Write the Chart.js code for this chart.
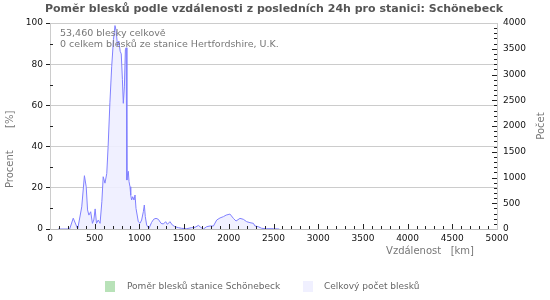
<!DOCTYPE html>
<html>
<head>
<meta charset="utf-8">
<script src="https://cdn.jsdelivr.net/npm/chart.js@4.4.0/dist/chart.umd.min.js"></script>
<style>
  body { margin: 0; background: white; }
</style>
</head>
<body>
<canvas id="myChart" width="550" height="300"></canvas>
<script>
  // distances in km
  var distKm = [90, 220, 260, 310, 355, 385, 405, 420, 435, 455, 475, 490, 505, 520, 540, 560, 580, 595, 615, 635,
    650, 670, 690, 710, 727, 740, 755, 770, 785, 797, 810, 820, 832, 843, 852, 860, 866, 876, 884, 895,
    903, 913, 925, 940, 951, 962, 988, 1007, 1025, 1044, 1055, 1066, 1081, 1107, 1137, 1160, 1186, 1212, 1242, 1268,
    1294, 1313, 1342, 1368, 1398, 1436, 1473, 1529, 1585, 1622, 1660, 1686, 1716, 1753, 1790, 1828, 1865, 1902, 1940, 1970,
    2013, 2051, 2081, 2125, 2163, 2200, 2237, 2275, 2293, 2330, 2368, 2424, 2498, 2565];
  // total strikes per distance
  var totalCount = [0, 0, 210, 0, 430, 1035, 820, 370, 270, 335, 110, 175, 390, 110, 175, 110, 530, 1015, 890, 1080,
    1600, 2450, 3150, 3680, 3950, 3850, 3560, 3650, 3450, 3400, 2900, 2440, 2760, 3480, 3520, 950, 1050, 1120, 920, 820,
    660, 563, 627, 563, 660, 400, 140, 110, 175, 336, 466, 240, 78, 13, 130, 190, 207, 188, 110, 97,
    142, 91, 142, 78, 45, 26, 13, 6, 26, 32, 70, 32, 0, 45, 58, 58, 175, 215, 240, 270,
    290, 207, 155, 207, 188, 142, 123, 110, 58, 45, 13, 6, 6, 0];
  // station ratio in % (station had 0 strikes)
  var stationRatio = distKm.map(function () { return 0; });

  var titleText = 'Poměr blesků podle vzdálenosti z posledních 24h pro stanici: Schönebeck';
  var infoLines = ['53,460 blesky celkově', '0 celkem blesků ze stanice Hertfordshire, U.K.'];
  var seriesNames = ['Poměr blesků stanice Schönebeck', 'Celkový počet blesků'];
  var seriesColors = ['rgb(184,226,184)', 'rgb(240,240,255)'];

  function pts(xs, ys) {
    return xs.map(function (x, i) { return { x: x, y: ys[i] }; });
  }
  function plain(v) { return String(v); }

  var FONT = 'DejaVu Sans';

  var extras = {
    id: 'extras',
    afterDraw: function (chart) {
      var c = chart.ctx;
      var a = chart.chartArea;
      var sx = chart.scales.x, sy = chart.scales.y, sy1 = chart.scales.y1;
      c.save();

      // top border
      c.strokeStyle = '#cccccc';
      c.lineWidth = 1;
      c.beginPath();
      c.moveTo(a.left, a.top + 0.5);
      c.lineTo(a.right, a.top + 0.5);
      c.stroke();

      // minor / major ticks, pointing inwards
      c.strokeStyle = '#222';
      c.beginPath();
      for (var d = 100; d < 5000; d += 100) {
        var px = Math.round(sx.getPixelForValue(d)) + 0.5;
        var len = d % 500 === 0 ? 5 : 3;
        c.moveTo(px, a.bottom);
        c.lineTo(px, a.bottom - len);
      }
      for (var n = 100; n < 4000; n += 100) {
        var py = Math.round(sy1.getPixelForValue(n)) + 0.5;
        var l2 = n % 500 === 0 ? 5 : 3;
        c.moveTo(a.right, py);
        c.lineTo(a.right - l2, py);
      }
      for (var p = 10; p < 100; p += 20) {
        var py2 = Math.round(sy.getPixelForValue(p)) + 0.5;
        c.moveTo(a.left, py2);
        c.lineTo(a.left + 3, py2);
      }
      c.stroke();

      // title
      c.fillStyle = '#555';
      c.font = 'bold 11px "' + FONT + '"';
      c.textAlign = 'center';
      c.textBaseline = 'middle';
      c.fillText(titleText, 274, 9);

      // info text in plot
      c.fillStyle = '#777';
      c.font = '9.5px "' + FONT + '"';
      c.textAlign = 'left';
      c.fillText(infoLines[0], 60, 34);
      c.fillText(infoLines[1], 60, 45);

      // axis titles
      c.font = '10px "' + FONT + '"';
      c.textAlign = 'right';
      c.fillText('Vzdálenost   [km]', 474, 251);
      c.save();
      c.translate(10, 188);
      c.rotate(-Math.PI / 2);
      c.textAlign = 'left';
      c.fillText('Procent       [%]', 0, 0);
      c.restore();
      c.save();
      c.translate(541, 126);
      c.rotate(-Math.PI / 2);
      c.textAlign = 'center';
      c.fillText('Počet', 0, 0);
      c.restore();

      // legend
      var boxX = [105, 303], textX = [127, 324];
      c.font = '9px "' + FONT + '"';
      c.textAlign = 'left';
      for (var i = 0; i < 2; i++) {
        c.fillStyle = seriesColors[i];
        c.fillRect(boxX[i], 281, 10, 11);
        c.fillStyle = '#666';
        c.fillText(seriesNames[i], textX[i], 287);
      }
      c.restore();
    }
  };

  var ctx = document.getElementById('myChart').getContext('2d');
  var chart = new Chart(ctx, {
    type: 'line',
    data: {
      datasets: [{
        label: seriesNames[0],
        data: pts(distKm, stationRatio),
        yAxisID: 'y',
        borderColor: seriesColors[0],
        borderWidth: 0,
        pointRadius: 0,
        showLine: false,
        fill: false
      }, {
        label: seriesNames[1],
        data: pts(distKm, totalCount),
        yAxisID: 'y1',
        borderColor: 'rgb(128,128,255)',
        backgroundColor: 'rgba(238,238,255,0.9)',
        borderWidth: 1,
        pointRadius: 0,
        tension: 0,
        fill: 'origin'
      }]
    },
    options: {
      responsive: false,
      animation: false,
      events: [],
      layout: { padding: { top: 23, left: 0, right: 0, bottom: 0 } },
      plugins: {
        legend: { display: false },
        title: { display: false },
        tooltip: { enabled: false }
      },
      scales: {
        x: {
          type: 'linear',
          min: 0,
          max: 5000,
          afterFit: function (s) { s.height = 71; },
          border: { color: '#bbbbbb' },
          grid: { display: false, drawTicks: false },
          ticks: {
            stepSize: 500,
            padding: 4,
            maxRotation: 0,
            color: '#111',
            callback: plain,
            font: { family: FONT, size: 9 }
          }
        },
        y: {
          position: 'left',
          min: 0,
          max: 100,
          afterFit: function (s) { s.width = 50; },
          border: { color: '#cccccc' },
          grid: { color: '#cccccc', tickColor: '#222', tickLength: 4 },
          ticks: {
            stepSize: 20,
            padding: 3,
            color: '#111',
            callback: plain,
            font: { family: FONT, size: 9 }
          }
        },
        y1: {
          position: 'right',
          min: 0,
          max: 4000,
          afterFit: function (s) { s.width = 53; },
          border: { color: '#cccccc' },
          grid: { drawOnChartArea: false, drawTicks: false },
          ticks: {
            stepSize: 500,
            padding: 6,
            color: '#111',
            callback: plain,
            font: { family: FONT, size: 9 }
          }
        }
      }
    },
    plugins: [extras]
  });
</script>
</body>
</html>
